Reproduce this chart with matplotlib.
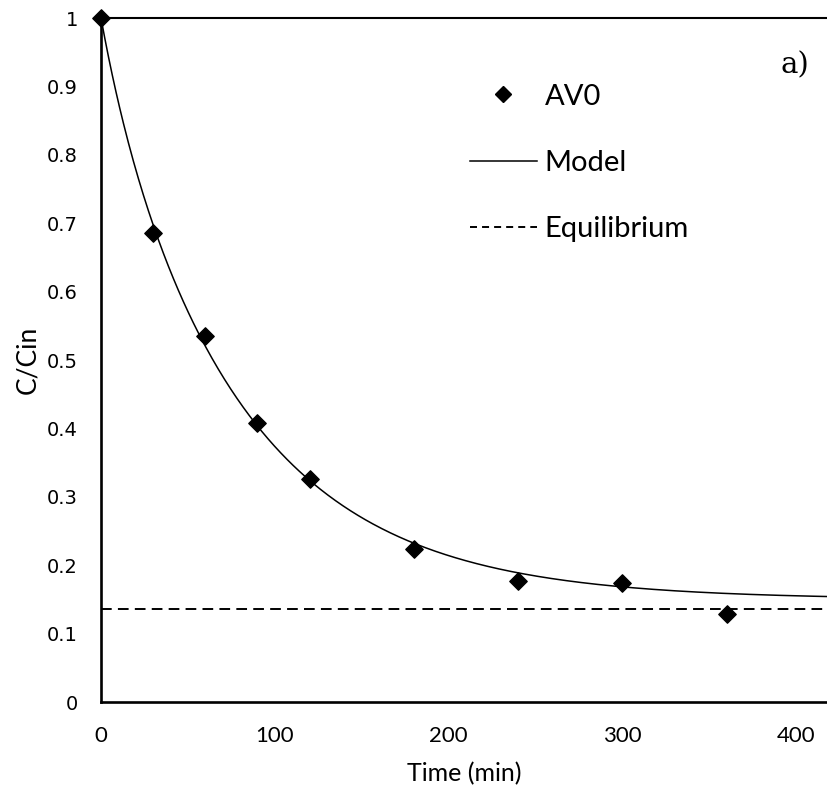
import numpy as np
import matplotlib
matplotlib.use("Agg")
import matplotlib.pyplot as plt
from matplotlib.lines import Line2D

# Measured concentration ratio over time
time_min = [0, 30, 60, 90, 120, 180, 240, 300, 360]
c_ratio = [1.0, 0.685, 0.535, 0.408, 0.326, 0.223, 0.177, 0.174, 0.128]

# Equilibrium level
c_equilibrium = 0.136

# Kinetic model parameters: plateau + slow and fast exponential terms
model_plateau = 0.15
model_amp_slow, model_k_slow = 0.78, 0.0125
model_amp_fast, model_k_fast = 0.07, 0.06

x_ticks = [0, 100, 200, 300, 400]
y_ticks = [0, 0.1, 0.2, 0.3, 0.4, 0.5, 0.6, 0.7, 0.8, 0.9, 1]
y_tick_labels = ["0", "0.1", "0.2", "0.3", "0.4", "0.5", "0.6", "0.7", "0.8", "0.9", "1"]

x_max = 417.8

fig = plt.figure(figsize=(8.27, 7.99), dpi=100)
ax = fig.add_axes([101 / 827, 97 / 799, 1 - 101 / 827, (702 - 18) / 799])

t_model = np.linspace(0, 430, 600)
c_model = (model_plateau
           + model_amp_slow * np.exp(-model_k_slow * t_model)
           + model_amp_fast * np.exp(-model_k_fast * t_model))

ax.scatter(time_min, c_ratio, marker="D", s=78, color="black", zorder=4,
           clip_on=False)
ax.plot(t_model, c_model, color="black", lw=1.1, zorder=3)
ax.axhline(c_equilibrium, color="black", lw=1.4, dashes=(5.5, 3.2), zorder=2)

ax.set_xlim(0, x_max)
ax.set_ylim(0, 1)

ax.set_xticks(x_ticks)
ax.set_xticklabels([str(v) for v in x_ticks], fontfamily="Lato", fontsize=16)
ax.set_yticks(y_ticks)
ax.set_yticklabels(y_tick_labels, fontfamily="DejaVu Sans", fontsize=14)
ax.tick_params(axis="both", length=0)
ax.tick_params(axis="x", pad=17)
ax.tick_params(axis="y", pad=16.5)

ax.set_xlabel("Time (min)", fontfamily="Lato", fontsize=18, labelpad=12)
ax.set_ylabel("C/Cin", fontfamily="Lato", fontsize=19, labelpad=5)

for side in ("left", "bottom"):
    ax.spines[side].set_linewidth(1.9)
ax.spines["top"].set_linewidth(1.5)
ax.spines["right"].set_visible(False)

handles = [
    Line2D([], [], ls="none", marker="D", ms=8.5, color="black"),
    Line2D([], [], color="black", lw=1.1),
    Line2D([], [], color="black", lw=1.4, dashes=(3.6, 2.6)),
]
ax.legend(handles, ["AV0", "Model", "Equilibrium"], loc="upper left",
          bbox_to_anchor=(0.492, 0.921), frameon=False,
          prop={"family": "Lato", "size": 21}, handlelength=2.3,
          handletextpad=0.27, labelspacing=1.38, borderaxespad=0)

ax.text(0.956, 0.931, "a)", transform=ax.transAxes, fontfamily="DejaVu Serif",
        fontsize=21, ha="center", va="center")

fig.savefig("out.png", dpi=100)
